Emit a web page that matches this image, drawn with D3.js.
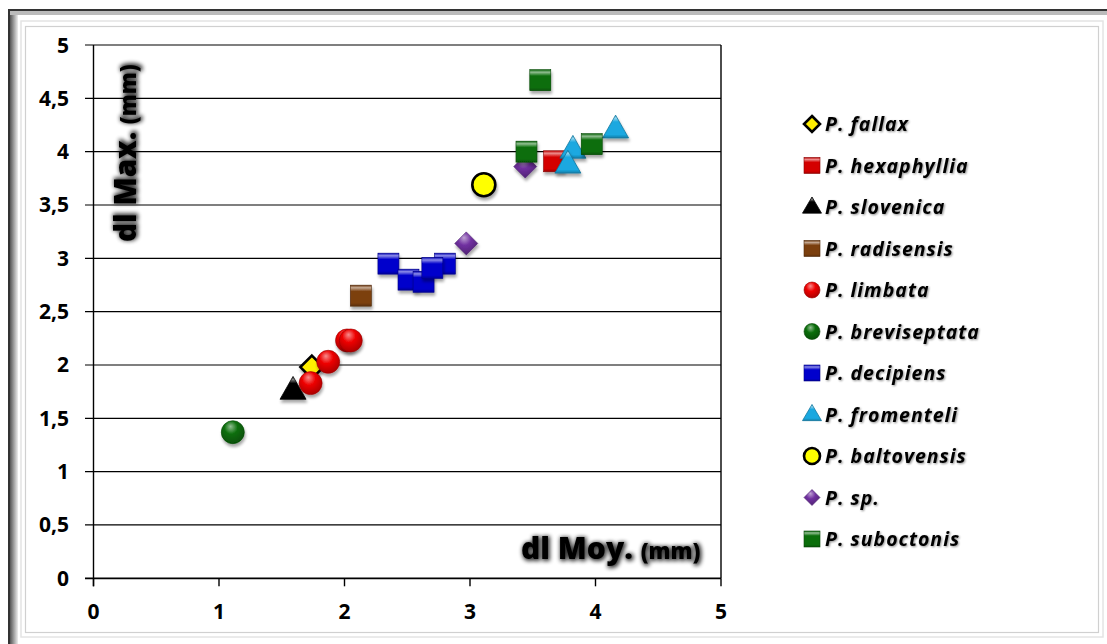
<!DOCTYPE html>
<html><head><meta charset="utf-8">
<script src="https://cdn.jsdelivr.net/npm/d3@7"></script>
<style>
body{margin:0;background:#fff;}
svg{display:block;}
</style></head>
<body>
<svg id="chart" width="1107" height="644"></svg>
<script>
// ---- data ----
const seriesNames = ["P. fallax","P. hexaphyllia","P. slovenica","P. radisensis","P. limbata","P. breviseptata","P. decipiens","P. fromenteli","P. baltovensis","P. sp.","P. suboctonis"];
const seriesShapes = ["diamond","square","triangle","square","circle","circle","square","triangle","circle","diamond","square"];
const seriesColors = ["#ffee00","#d40000","#000000","#7b3f0e","#ee0000","#0a6e0a","#0000cc","#1aa8e0","#ffff00","#7030a0","#0a6e0a"];
const seriesX = [
  [1.74],
  [3.67],
  [1.59],
  [2.13],
  [1.73,1.87,2.02,2.05],
  [1.11],
  [2.35,2.51,2.63,2.80,2.70],
  [3.82,3.78,4.16],
  [3.11],
  [2.97,3.44],
  [3.56,3.45,3.97]
];
const seriesY = [
  [1.98],
  [3.91],
  [1.76],
  [2.65],
  [1.83,2.03,2.23,2.23],
  [1.37],
  [2.95,2.80,2.78,2.95,2.91],
  [4.02,3.88,4.21],
  [3.69],
  [3.14,3.86],
  [4.67,4.00,4.07]
];
const xTicks = [0,1,2,3,4,5];
const yTicks = [0,0.5,1,1.5,2,2.5,3,3.5,4,4.5,5];
const fmt = d => String(d).replace(".", ",");

// ---- layout ----
const FONT = "'Open Sans', sans-serif";
const svg = d3.select("#chart");
const defs = svg.append("defs");
const x = d3.scaleLinear().domain([0,5]).range([93.5,721]);
const y = d3.scaleLinear().domain([0,5]).range([578.3,45]);

// filters
const sh = defs.append("filter").attr("id","shadow").attr("x","-50%").attr("y","-50%").attr("width","200%").attr("height","200%");
sh.append("feGaussianBlur").attr("in","SourceAlpha").attr("stdDeviation",1.6);
sh.append("feOffset").attr("dx",1).attr("dy",3).attr("result","ob");
sh.append("feComponentTransfer").append("feFuncA").attr("type","linear").attr("slope",0.35);
const shm = sh.append("feMerge"); shm.append("feMergeNode"); shm.append("feMergeNode").attr("in","SourceGraphic");

const glow = defs.append("filter").attr("id","glow").attr("x","-20%").attr("y","-40%").attr("width","140%").attr("height","180%");
glow.append("feMorphology").attr("in","SourceAlpha").attr("operator","dilate").attr("radius",1);
glow.append("feGaussianBlur").attr("stdDeviation",2);
glow.append("feOffset").attr("dx",1).attr("dy",1);
glow.append("feComponentTransfer").append("feFuncA").attr("type","linear").attr("slope",0.8);
const gm = glow.append("feMerge"); gm.append("feMergeNode"); gm.append("feMergeNode").attr("in","SourceGraphic");

const tglow = defs.append("filter").attr("id","tglow").attr("x","-10%").attr("y","-30%").attr("width","120%").attr("height","160%");
tglow.append("feGaussianBlur").attr("in","SourceAlpha").attr("stdDeviation",1.2);
tglow.append("feOffset").attr("dx",1).attr("dy",1);
tglow.append("feComponentTransfer").append("feFuncA").attr("type","linear").attr("slope",0.45);
const tm = tglow.append("feMerge"); tm.append("feMergeNode"); tm.append("feMergeNode").attr("in","SourceGraphic");

// gradients per series
seriesColors.forEach((c,i)=>{
  const base = d3.color(c);
  const rg = defs.append("radialGradient").attr("id","rg"+i).attr("cx","45%").attr("cy","35%").attr("r","65%").attr("fx","40%").attr("fy","25%");
  rg.append("stop").attr("offset","0%").attr("stop-color", d3.interpolateRgb(c,"#fff")(0.55));
  rg.append("stop").attr("offset","45%").attr("stop-color", c);
  rg.append("stop").attr("offset","100%").attr("stop-color", base.darker(0.9));
  const lg = defs.append("linearGradient").attr("id","lg"+i).attr("x1",0).attr("y1",0).attr("x2",0).attr("y2",1);
  lg.append("stop").attr("offset","0%").attr("stop-color", base.darker(0.3));
  lg.append("stop").attr("offset","12%").attr("stop-color", d3.interpolateRgb(c,"#fff")(0.55));
  lg.append("stop").attr("offset","30%").attr("stop-color", c);
  lg.append("stop").attr("offset","85%").attr("stop-color", c);
  lg.append("stop").attr("offset","100%").attr("stop-color", base.darker(0.8));
});

// frame
const fr = defs.append("linearGradient").attr("id","frameL").attr("x1",0).attr("x2",1);
fr.append("stop").attr("offset","0").attr("stop-color","#555");
fr.append("stop").attr("offset","1").attr("stop-color","#eee");
svg.append("rect").attr("x",9).attr("y",10).attr("width",1200).attr("height",700).attr("fill","#fff").attr("stroke","#333").attr("stroke-width",2);
svg.append("rect").attr("x",10).attr("y",11).attr("width",8).attr("height",700).attr("fill","url(#frameL)");
svg.append("rect").attr("x",10).attr("y",11).attr("width",1200).attr("height",4).attr("fill","#bbb");
svg.append("rect").attr("x",21).attr("y",21).attr("width",1082).attr("height",616).attr("fill","none").attr("stroke","#e4e4e4").attr("stroke-width",1.5);
svg.append("rect").attr("x",25.5).attr("y",26.5).attr("width",1073).attr("height",606).attr("fill","#fff").attr("stroke","#d0d0d0").attr("stroke-width",1.2);

// gridlines
const g = svg.append("g");
g.selectAll("line.grid").data(yTicks).join("line")
  .attr("x1",85).attr("x2",x(5)).attr("y1",d=>y(d)).attr("y2",d=>y(d))
  .attr("stroke","#000").attr("stroke-width",d=>d===0?1.8:1.2);
g.append("line").attr("x1",x(5)).attr("x2",x(5)).attr("y1",y(5)).attr("y2",y(0)).attr("stroke","#000").attr("stroke-width",1.4);
g.append("line").attr("x1",x(0)).attr("x2",x(0)).attr("y1",y(5)).attr("y2",y(0)+8).attr("stroke","#000").attr("stroke-width",1.4);
g.selectAll("line.xt").data(xTicks).join("line")
  .attr("x1",d=>x(d)).attr("x2",d=>x(d)).attr("y1",y(0)).attr("y2",y(0)+8).attr("stroke","#000").attr("stroke-width",1.4);

// tick labels
g.selectAll("text.yl").data(yTicks).join("text")
  .attr("x",69).attr("y",d=>y(d)+7.5).attr("text-anchor","end")
  .attr("font-family",FONT).attr("font-weight",700).attr("font-size",21).attr("fill","#000")
  .text(fmt);
g.selectAll("text.xl").data(xTicks).join("text")
  .attr("x",d=>x(d)).attr("y",619).attr("text-anchor","middle")
  .attr("font-family",FONT).attr("font-weight",700).attr("font-size",21).attr("fill","#000")
  .text(fmt);

// axis titles
const yt = svg.append("text").attr("transform","translate(136,242) rotate(-90)")
  .attr("font-family",FONT).attr("font-weight",800).attr("fill","#000").attr("filter","url(#glow)");
yt.append("tspan").attr("font-size",29.5).text("dl Max. ");
yt.append("tspan").attr("font-size",22).text("(mm)");
const xt = svg.append("text").attr("x",521).attr("y",559)
  .attr("font-family",FONT).attr("font-weight",800).attr("fill","#000").attr("filter","url(#glow)");
xt.append("tspan").attr("font-size",30).text("dl Moy. ");
xt.append("tspan").attr("font-size",22).text("(mm)");

// marker drawing
function drawMarker(sel, shape, i, s) {
  const fillR = `url(#rg${i})`, fillL = `url(#lg${i})`;
  const col = seriesColors[i];
  if (shape === "circle") {
    const outlined = seriesNames[i] === "P. baltovensis";
    sel.append("circle").attr("r", s/2).attr("fill", outlined ? col : fillR)
      .attr("stroke", outlined ? "#000" : d3.color(col).darker(1.2)).attr("stroke-width", outlined ? 2.6 : 0.6);
  } else if (shape === "square") {
    sel.append("rect").attr("x",-s/2).attr("y",-s/2).attr("width",s).attr("height",s)
      .attr("fill", fillL).attr("stroke", d3.color(col).darker(1.2)).attr("stroke-width",0.6);
  } else if (shape === "triangle") {
    const h = s*0.95;
    const p = d3.path(); p.moveTo(0,-h*0.62); p.lineTo(s/2+1,h*0.38); p.lineTo(-s/2-1,h*0.38); p.closePath();
    sel.append("path").attr("d",p.toString()).attr("fill", fillL).attr("stroke", d3.color(col).darker(1)).attr("stroke-width",0.8);
  } else if (shape === "diamond") {
    const outlined = seriesNames[i] === "P. fallax";
    const r = s/2+1;
    const p = d3.path(); p.moveTo(0,-r); p.lineTo(r,0); p.lineTo(0,r); p.lineTo(-r,0); p.closePath();
    sel.append("path").attr("d",p.toString()).attr("fill", outlined ? col : fillR)
      .attr("stroke", outlined ? "#000" : d3.color(col).darker(1)).attr("stroke-width", outlined ? 2.6 : 0.6);
  }
}
const markerSize = {circle:23, square:21, triangle:24, diamond:21};

const plot = svg.append("g");
seriesNames.forEach((name,i)=>{
  const pts = seriesX[i].map((vx,k)=>({x:vx,y:seriesY[i][k]}));
  plot.append("g").selectAll("g").data(pts).join("g")
    .attr("transform",d=>`translate(${x(d.x)},${y(d.y)})`)
    .attr("filter","url(#shadow)")
    .each(function(){ drawMarker(d3.select(this), seriesShapes[i], i, markerSize[seriesShapes[i]]); });
});

// legend
const leg = svg.append("g");
const legY0 = 124, legStep = 41.5;
seriesNames.forEach((name,i)=>{
  const gg = leg.append("g").attr("transform",`translate(812,${legY0+i*legStep})`);
  const sz = {circle:16, square:16, triangle:17, diamond:14}[seriesShapes[i]];
  drawMarker(gg, seriesShapes[i], i, sz);
  gg.append("text").attr("x",13).attr("y",7).attr("filter","url(#tglow)")
    .attr("font-family",FONT).attr("font-weight",700).attr("font-style","italic")
    .attr("letter-spacing",1)
    .attr("font-size",19.5).attr("fill","#000").text(name);
});
</script>
</body></html>
